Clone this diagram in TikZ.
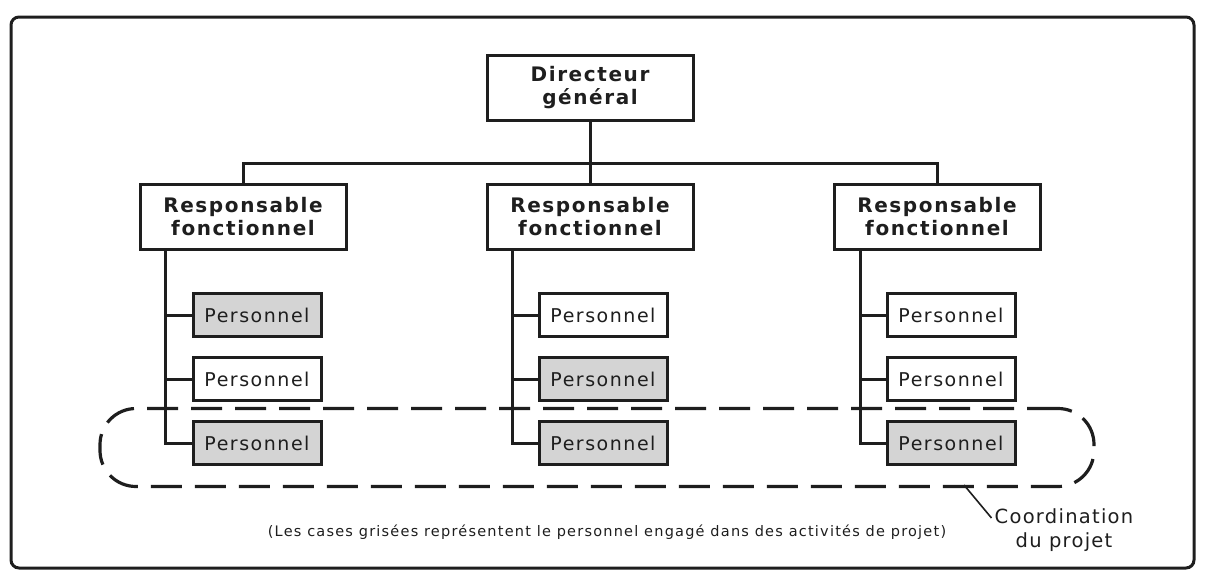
\documentclass[tikz,border=0pt]{standalone}
\usepackage{fontspec}
\setmainfont{DejaVu Sans}
\newfontfamily\widefont[LetterSpace=8]{DejaVu Sans}
\newfontfamily\cpfont[LetterSpace=6.5]{DejaVu Sans}
\newfontfamily\notefont[LetterSpace=8.4]{DejaVu Sans}
\definecolor{boxgray}{RGB}{212,212,212}
\definecolor{ink}{RGB}{30,30,30}
\tikzset{
  x=1pt, y=-1pt,
  every node/.style={text=ink},
  line/.style={draw=ink, line width=3pt},
  headbox/.style={draw=ink, line width=3pt, fill=white, minimum width=206pt, minimum height=65pt, inner sep=0pt, align=center, font=\widefont\fontsize{20}{23}\selectfont\bfseries},
  persbox/.style={draw=ink, line width=3pt, fill=white, minimum width=128pt, minimum height=43pt, inner sep=0pt, font=\widefont\fontsize{19}{22}\selectfont},
  grey/.style={fill=boxgray},
}
\begin{document}
\begin{tikzpicture}
\useasboundingbox (0,0) rectangle (1211,571);
\node[draw=ink, line width=3pt, rounded corners=8pt, minimum width=1183pt, minimum height=551pt, inner sep=0pt] (frame) at (602.5,292.5) {};

% dashed coordination outline
\node[draw=ink, line width=3.2pt, dash pattern=on 31pt off 13pt, rounded corners=36pt, minimum width=994pt, minimum height=78pt, inner sep=0pt] (ell) at (597,447.5) {};

\node[headbox] (dg) at (590,88) {Directeur\\général};
\node[headbox] (r1) at (243,217) {Responsable\\fonctionnel};
\node[headbox] (r2) at (590,217) {Responsable\\fonctionnel};
\node[headbox] (r3) at (937,217) {Responsable\\fonctionnel};

\coordinate (bus) at (590,163);
\draw[line] (dg.south) -- (r2.north);
\draw[line] (r1.north) |- (bus) -| (r3.north);

% column 1
\node[persbox, grey] (p11) at (257,315) {Personnel};
\node[persbox] (p12) at (257,379) {Personnel};
\node[persbox, grey] (p13) at (257,443) {Personnel};
% column 2
\node[persbox] (p21) at (603,315) {Personnel};
\node[persbox, grey] (p22) at (603,379) {Personnel};
\node[persbox, grey] (p23) at (603,443) {Personnel};
% column 3
\node[persbox] (p31) at (951,315) {Personnel};
\node[persbox] (p32) at (951,379) {Personnel};
\node[persbox, grey] (p33) at (951,443) {Personnel};

\coordinate (t1) at (165,250);
\coordinate (t2) at (512,250);
\coordinate (t3) at (860,250);
\draw[line] (t1) |- (p13.west);
\draw[line] (p11.west) -- (p11.west -| t1);
\draw[line] (p12.west) -- (p12.west -| t1);
\draw[line] (t2) |- (p23.west);
\draw[line] (p21.west) -- (p21.west -| t2);
\draw[line] (p22.west) -- (p22.west -| t2);
\draw[line] (t3) |- (p33.west);
\draw[line] (p31.west) -- (p31.west -| t3);
\draw[line] (p32.west) -- (p32.west -| t3);

\node[font=\notefont\fontsize{14.5}{17}\selectfont, inner sep=0pt] (note) at (607,532) {(Les cases grisées représentent le personnel engagé dans des activités de projet)};
\node[font=\cpfont\fontsize{19.5}{24}\selectfont, align=center, inner sep=0pt] (cp) at (1064,530) {Coordination\\du projet};
\coordinate (cl) at (964,485);
\draw[draw=ink, line width=1.6pt] (cl) -- ([xshift=-3pt,yshift=12pt]cp.west);
\end{tikzpicture}
\end{document}
